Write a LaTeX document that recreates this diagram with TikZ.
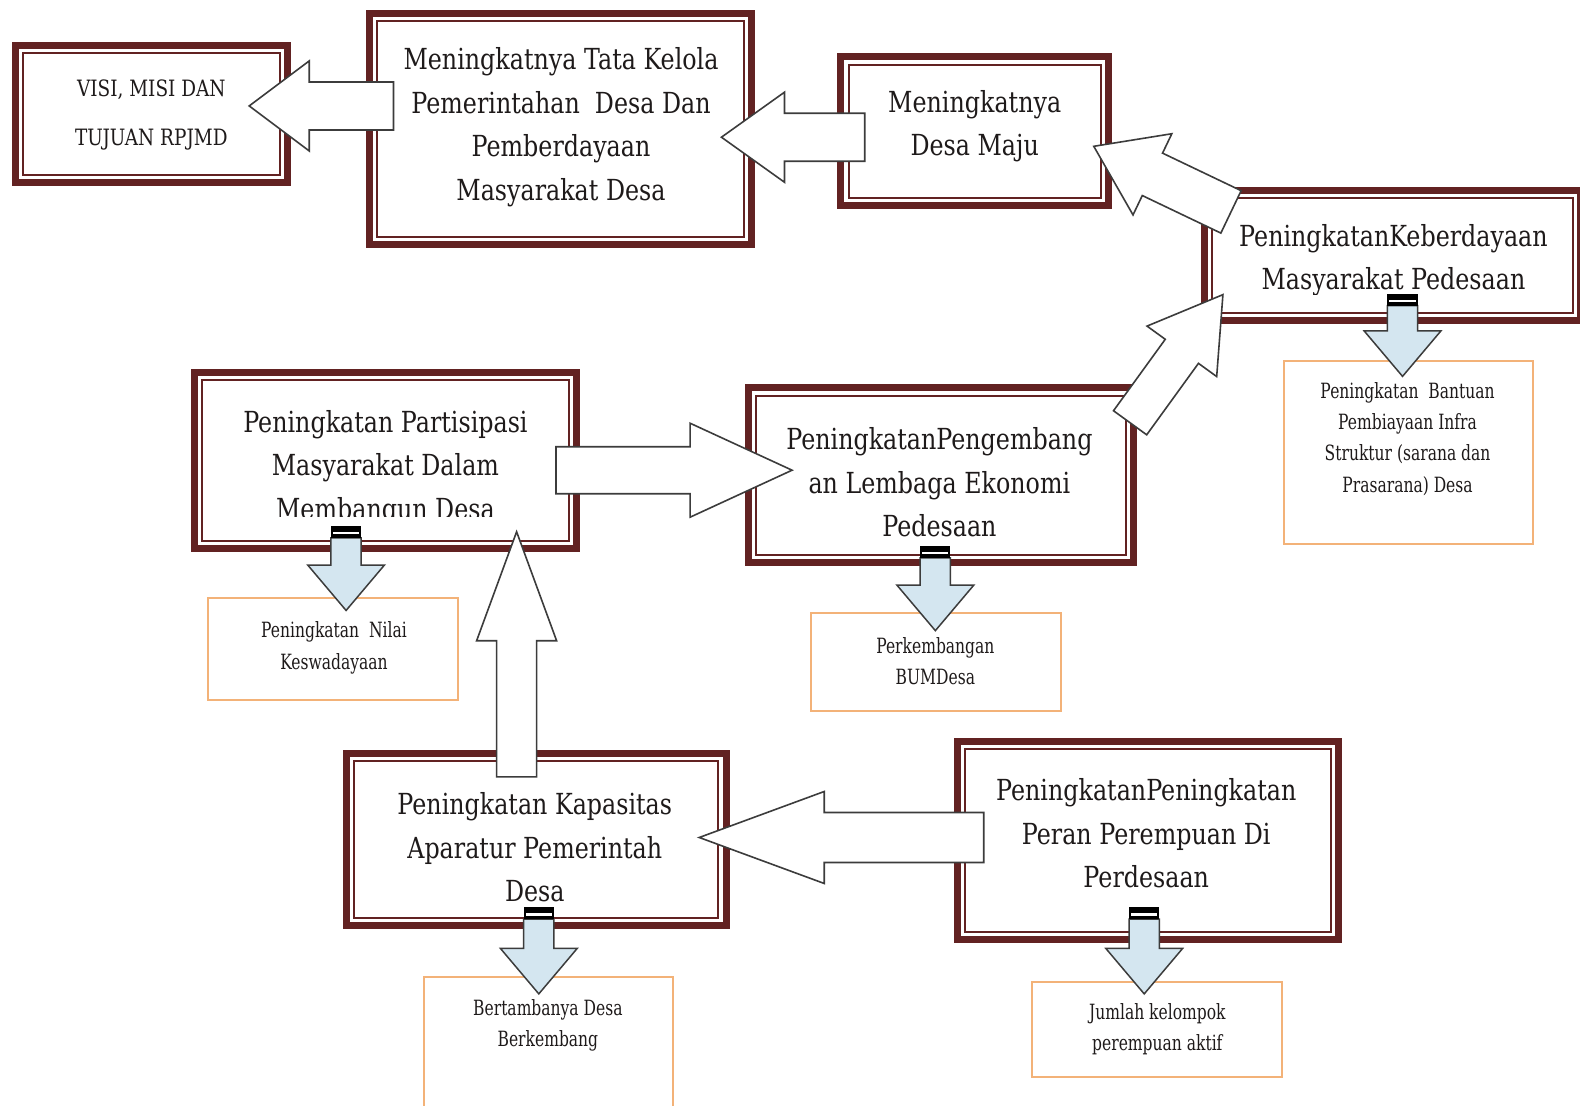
\documentclass[tikz,border=0pt]{standalone}
\usepackage{fontspec}
\setmainfont{DejaVu Serif}[FakeStretch=0.82]
\newfontfamily\smallfont{DejaVu Serif}[FakeStretch=0.74]
\usetikzlibrary{calc}
\definecolor{boxmaroon}{RGB}{98,34,34}
\definecolor{boxorange}{RGB}{243,178,120}
\definecolor{textgray}{RGB}{30,26,26}
\definecolor{arrowgray}{RGB}{60,60,60}
\definecolor{lightblue}{RGB}{212,230,240}
\def\unitscale{1.009}
\tikzset{
  bigbox/.style={draw=boxmaroon, line width=7pt, fill=white, inner sep=0pt, outer sep=0pt},
  innerline/.style={draw=boxmaroon, line width=2pt},
  smallbox/.style={draw=boxorange, line width=2pt, fill=white, inner sep=0pt, outer sep=0pt},
  bigtext/.style={align=center, text=textgray, font=\fontsize{29}{43.4}\selectfont, inner sep=0pt},
  visitext/.style={align=center, text=textgray, font=\fontsize{22.5}{48.5}\selectfont, inner sep=0pt},
  smalltext/.style={align=center, text=textgray, font=\smallfont\fontsize{21}{31.3}\selectfont, inner sep=0pt},
  blockarrow/.style={draw=arrowgray, line width=1.6pt, fill=white, line join=miter},
  downarrowstyle/.style={draw=arrowgray, line width=1.5pt, fill=lightblue},
}
\newcommand\bigbox[5]{%
  \node[bigbox, minimum width={\unitscale*(#4-#2)-7}, minimum height={\unitscale*(#5-#3)-7}] (#1) at ({(#2+#4)/2},{(#3+#5)/2}) {};
  \draw[innerline] ([shift={(7.5,7.5)}]#1.north west) rectangle ([shift={(-7.5,-7.5)}]#1.south east);
}
\newcommand\smallbox[5]{%
  \node[smallbox, minimum width={\unitscale*(#4-#2)-2}, minimum height={\unitscale*(#5-#3)-2}] (#1) at ({(#2+#4)/2},{(#3+#5)/2}) {};
}
% block arrow: tail, tip, shaft half width, head half width, head length
\newcommand\barrow[5]{%
  \path ($(#2)!#5!(#1)$) coordinate (hb);
  \draw[blockarrow] ($(#1)!#3!90:(#2)$) -- ($(hb)!#3!90:(#2)$) -- ($(hb)!#4!90:(#2)$) -- (#2)
    -- ($(hb)!#4!-90:(#2)$) -- ($(hb)!#3!-90:(#2)$) -- ($(#1)!#3!-90:(#2)$) -- cycle;
}
% down arrow: top coordinate name, tip coordinate name
\newcommand\dnarrow[2]{%
  \draw[downarrowstyle] ($(#1)+(-15,12)$) -- ($(#2)+(-15,-45)$) -- ($(#2)+(-38,-45)$) -- (#2)
    -- ($(#2)+(38,-45)$) -- ($(#2)+(15,-45)$) -- ($(#1)+(15,12)$) -- cycle;
  \fill[black] ($(#1)+(-15,0)$) rectangle ($(#1)+(15,12)$);
  \fill[white] ($(#1)+(-13,6)$) rectangle ($(#1)+(13,8.5)$);
}
\begin{document}
\begin{tikzpicture}[x=1.009pt,y=-1.009pt]
\useasboundingbox (0,0) rectangle (1565.9,1096.1);
\fill[white] (0,0) rectangle (1565.9,1096.1);

% big boxes
\bigbox{visi}{12}{42}{288}{184}
\bigbox{tata}{363}{10}{748}{246}
\bigbox{maju}{830}{53}{1102}{207}
\bigbox{daya}{1190}{185}{1570}{321}
\bigbox{part}{189}{366}{575}{547}
\bigbox{ekon}{738}{381}{1127}{561}
\bigbox{kapa}{340}{743}{723}{921}
\bigbox{pere}{945}{731}{1330}{935}

% small boxes
\smallbox{bant}{1272}{357}{1520}{540}
\smallbox{nilai}{205}{592}{455}{695}
\smallbox{bum}{803}{607}{1053}{706}
\smallbox{tamb}{419}{967}{668}{1116}
\smallbox{juml}{1022}{972}{1272}{1068}

% texts
\node[visitext] (tvisi) at (150,114) {VISI, MISI DAN\\TUJUAN RPJMD};
\node[bigtext] (ttata) at (556,126) {Meningkatnya Tata Kelola\\Pemerintahan\ \ Desa Dan\\Pemberdayaan\\Masyarakat Desa};
\node[bigtext] (tmaju) at (966,125) {Meningkatnya\\Desa Maju};
\begin{scope}
  \clip (1200,195) rectangle (1560,292);
  \node[bigtext] (tdaya) at (1381,258) {PeningkatanKeberdayaan\\Masyarakat Pedesaan};
\end{scope}
\begin{scope}
  \clip (200,376) rectangle (565,512);
  \node[bigtext] (tpart) at (382,464) {Peningkatan Partisipasi\\Masyarakat Dalam\\Membangun Desa};
\end{scope}
\node[bigtext] (tekon) at (931,478) {PeningkatanPengembang\\an Lembaga Ekonomi\\Pedesaan};
\node[bigtext] (tkapa) at (530,840) {Peningkatan Kapasitas\\Aparatur Pemerintah\\Desa};
\node[bigtext] (tpere) at (1136,826) {PeningkatanPeningkatan\\Peran Perempuan Di\\Perdesaan};

\node[smalltext] (tbant) at (1395,435) {Peningkatan\ \ Bantuan\\Pembiayaan Infra\\Struktur (sarana dan\\Prasarana) Desa};
\node[smalltext] (tnilai) at (331,642) {Peningkatan\ \ Nilai\\Keswadayaan};
\node[smalltext] (tbum) at (927,655) {Perkembangan\\BUMDesa};
\node[smalltext] (ttamb) at (543,1016) {Bertambanya Desa\\Berkembang};
\node[smalltext] (tjuml) at (1147,1020) {Jumlah kelompok\\perempuan aktif};

% block arrow end points
\coordinate (a1s) at (390,105);  \coordinate (a1e) at (247,105);
\coordinate (a2s) at (857,136);  \coordinate (a2e) at (715,136);
\coordinate (a3s) at (1220,210); \coordinate (a3e) at (1084,145);
\coordinate (a4s) at (1120,419); \coordinate (a4e) at (1212,292);
\coordinate (a5s) at (551,466);  \coordinate (a5e) at (785,466);
\coordinate (a6s) at (512,770);  \coordinate (a6e) at (512,527);
\coordinate (a7s) at (975,830);  \coordinate (a7e) at (693,830);

\barrow{a1s}{a1e}{24pt}{45pt}{60pt}
\barrow{a2s}{a2e}{24pt}{45pt}{63pt}
\barrow{a3s}{a3e}{23.5pt}{45pt}{65pt}
\barrow{a4s}{a4e}{20.5pt}{43pt}{70pt}
\barrow{a5s}{a5e}{23.5pt}{47pt}{102pt}
\barrow{a6s}{a6e}{20pt}{40pt}{109pt}
\barrow{a7s}{a7e}{25pt}{46pt}{125pt}

% down arrows
\coordinate (d1s) at (1390,291);  \coordinate (d1e) at (1390,373);
\coordinate (d2s) at (343,521);   \coordinate (d2e) at (343,605);
\coordinate (d3s) at (927,541);   \coordinate (d3e) at (927,625);
\coordinate (d4s) at (534,899);   \coordinate (d4e) at (534,985);
\coordinate (d5s) at (1134,899);  \coordinate (d5e) at (1134,985);
\dnarrow{d1s}{d1e}
\dnarrow{d2s}{d2e}
\dnarrow{d3s}{d3e}
\dnarrow{d4s}{d4e}
\dnarrow{d5s}{d5e}
\end{tikzpicture}
\end{document}
